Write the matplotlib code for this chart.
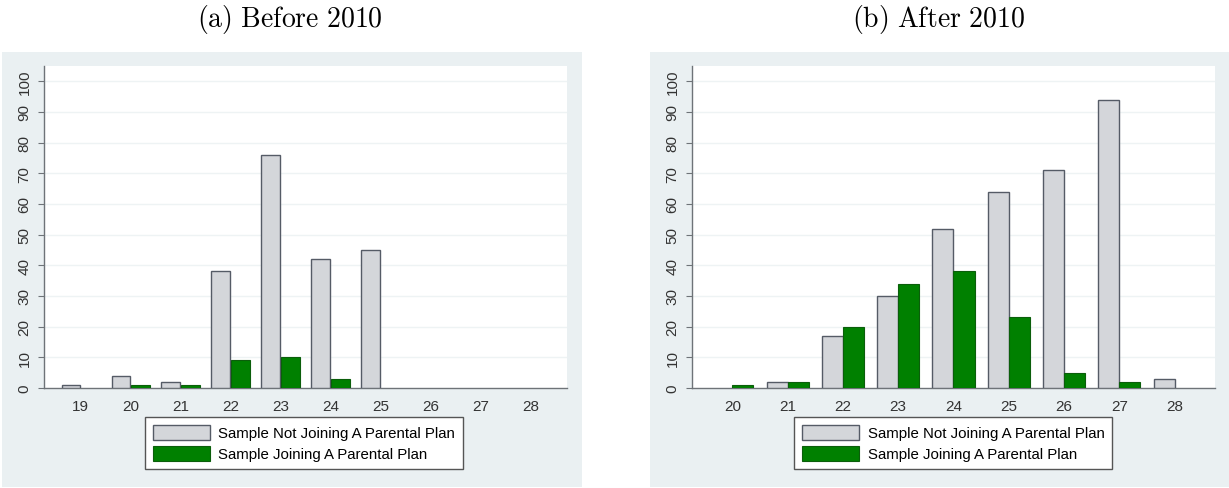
import numpy as np
import matplotlib
matplotlib.use("Agg")
import matplotlib.pyplot as plt
from matplotlib.patches import Rectangle, Patch

plt.rcParams["font.family"] = ["Liberation Sans", "DejaVu Sans"]
plt.rcParams["mathtext.fontset"] = "cm"

# age-at-event counts, split by whether the person joined a parental plan
ages_before = [19, 20, 21, 22, 23, 24, 25, 26, 27, 28]
not_joining_before = [1, 4, 2, 38, 76, 42, 45, 0, 0, 0]
joining_before = [0, 1, 1, 9, 10, 3, 0, 0, 0, 0]

ages_after = [20, 21, 22, 23, 24, 25, 26, 27, 28]
not_joining_after = [0, 2, 17, 30, 52, 64, 71, 94, 3]
joining_after = [1, 2, 20, 34, 38, 23, 5, 2, 0]

yticks = list(range(0, 101, 10))
labels = ["Sample Not Joining A Parental Plan", "Sample Joining A Parental Plan"]
titles = [r"$\mathrm{(a)\ Before\ 2010}$", r"$\mathrm{(b)\ After\ 2010}$"]

BG = "#EAF0F2"
GRAY = "#D4D6DA"
GRAY_EDGE = "#555B66"
GREEN = "#008000"
GREEN_EDGE = "#0B5E0B"
AXIS = "#6E7378"

W, H = 1229, 489
fig = plt.figure(figsize=(W / 100, H / 100), dpi=100)


def px_box(x0, y0, x1, y1):
    # pixel box (top-left origin) -> figure fraction rect
    return [x0 / W, (H - y1) / H, (x1 - x0) / W, (y1 - y0) / H]


panels = [
    dict(ages=ages_before, a=not_joining_before, b=joining_before,
         bg=(2, 53, 582, 488), ax=(44, 67, 567, 389), leg=(145, 418), title_x=290),
    dict(ages=ages_after, a=not_joining_after, b=joining_after,
         bg=(650, 53, 1229, 488), ax=(692, 67, 1215, 389), leg=(794, 418), title_x=938),
]

handles = [Patch(facecolor=GRAY, edgecolor=GRAY_EDGE, linewidth=1.0),
           Patch(facecolor=GREEN, edgecolor=GREEN_EDGE, linewidth=0.8)]

for p, title in zip(panels, titles):
    r = px_box(*p["bg"])
    fig.patches.append(Rectangle((r[0], r[1]), r[2], r[3], transform=fig.transFigure,
                                 facecolor=BG, edgecolor="none", zorder=-10))
    ax = fig.add_axes(px_box(*p["ax"]))
    ax.set_facecolor("white")
    x = np.array(p["ages"], dtype=float)
    w = 0.38
    # empty categories get no outline so nothing sits on the baseline
    lw_a = [1.0 if v > 0 else 0 for v in p["a"]]
    lw_b = [0.8 if v > 0 else 0 for v in p["b"]]
    ax.bar(x - w / 2, p["a"], width=w, color=GRAY, edgecolor=GRAY_EDGE,
           linewidth=lw_a, zorder=3)
    ax.bar(x + w / 2, p["b"], width=w, color=GREEN, edgecolor=GREEN_EDGE,
           linewidth=lw_b, zorder=3)
    ax.set_xlim(x[0] - 0.73, x[-1] + 0.73)
    ax.set_ylim(0, 105)
    ax.set_xticks(x)
    ax.set_xticklabels([str(a) for a in p["ages"]])
    ax.set_yticks(yticks)
    ax.set_yticklabels([str(t) for t in yticks], rotation=90, va="center")
    ax.tick_params(axis="x", length=0, pad=8, labelsize=11, colors="#333333")
    ax.tick_params(axis="y", length=4, width=0.8, color=AXIS, pad=5,
                   labelsize=11, labelcolor="#333333")
    for t in yticks[1:]:
        ax.axhline(t, color="#EEF3F4", linewidth=1.0, zorder=1)
    for s in ("top", "right"):
        ax.spines[s].set_visible(False)
    for s in ("left", "bottom"):
        ax.spines[s].set_color(AXIS)
        ax.spines[s].set_linewidth(1.0)

    lx, ly = p["leg"]
    leg = ax.legend(handles, labels, loc="upper left",
                    bbox_to_anchor=(lx / W, 1 - ly / H),
                    bbox_transform=fig.transFigure, frameon=True, fancybox=False,
                    fontsize=10.8, handlelength=3.8, handleheight=1.2,
                    handletextpad=0.6, labelspacing=0.35, borderpad=0.5,
                    borderaxespad=0)
    leg.get_frame().set_edgecolor("#555555")
    leg.get_frame().set_linewidth(1.0)
    leg.get_frame().set_alpha(1.0)

    fig.text(p["title_x"] / W, 1 - 20 / H, title, ha="center", va="center",
             fontsize=20)

fig.savefig("out.png", dpi=100, facecolor="white")
